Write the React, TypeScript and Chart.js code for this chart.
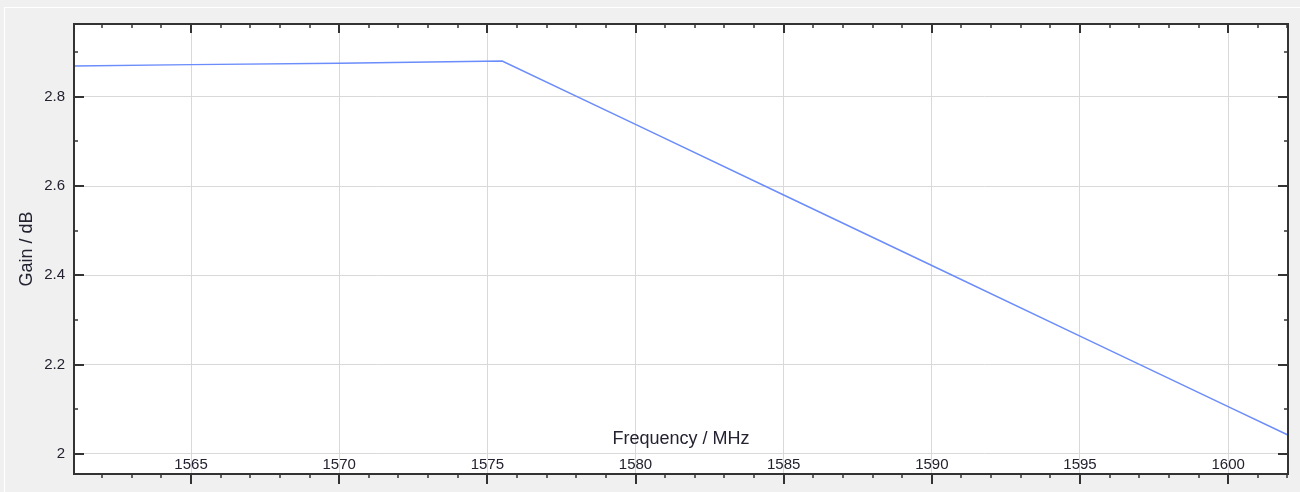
import { useEffect, useRef } from 'react';
import { Chart, registerables } from 'chart.js';

Chart.register(...registerables);

// ---- data ----
const freqMHz = [1561, 1565, 1570, 1575.5, 1580, 1585, 1590, 1595, 1600, 1602];
const gainDb = [2.869, 2.872, 2.875, 2.880, 2.738, 2.580, 2.422, 2.264, 2.106, 2.043];
const xTickValues = [1565, 1570, 1575, 1580, 1585, 1590, 1595, 1600];
const yTickValues = [2, 2.2, 2.4, 2.6, 2.8];
const xRange = [1561.05, 1602.02];
const yRange = [1.955, 2.963];
const xTitle = 'Frequency / MHz';
const yTitle = 'Gain / dB';

const FONT = '"Liberation Sans", Arial, sans-serif';
const TEXT = '#222230';
const AXIS = '#333333';

const framePlugin = {
  id: 'frame',
  beforeDraw(chart: any) {
    const { ctx, chartArea: a, width, height } = chart;
    ctx.save();
    ctx.fillStyle = '#f0f0f0';
    ctx.fillRect(0, 0, width, height);
    ctx.fillStyle = '#ffffff';
    ctx.fillRect(4, 7, width - 4, 1);
    ctx.fillRect(4, 7, 1, height - 7);
    ctx.fillRect(a.left, a.top, a.right - a.left, a.bottom - a.top);
    ctx.restore();
  },
  afterDraw(chart: any) {
    const { ctx, chartArea: a } = chart;
    const xs = chart.scales.x;
    const ys = chart.scales.y;
    ctx.save();
    ctx.strokeStyle = AXIS;
    const line = (x1: number, y1: number, x2: number, y2: number, w: number) => {
      ctx.lineWidth = w;
      ctx.beginPath();
      ctx.moveTo(x1, y1);
      ctx.lineTo(x2, y2);
      ctx.stroke();
    };
    for (let v = Math.ceil(xs.min); v <= xs.max; v++) {
      const major = v % 5 === 0;
      const px = Math.round(xs.getPixelForValue(v));
      line(px, a.bottom, px, a.bottom + (major ? 10 : 4), major ? 2 : 1.5);
      line(px, a.top, px, a.top + (major ? 9 : 4), major ? 2 : 1.5);
    }
    for (let k = Math.ceil(ys.min * 10); k <= Math.floor(ys.max * 10); k++) {
      const major = k % 2 === 0;
      const py = Math.round(ys.getPixelForValue(k / 10));
      line(a.left, py, a.left + (major ? 10 : 4), py, major ? 2 : 1.5);
      line(a.right, py, a.right - (major ? 10 : 4), py, major ? 2 : 1.5);
    }
    ctx.lineWidth = 2;
    ctx.strokeRect(a.left, a.top, a.right - a.left, a.bottom - a.top);
    ctx.restore();
  },
};

export default function App() {
  const ref = useRef<HTMLCanvasElement>(null);
  useEffect(() => {
    if (!ref.current) return;
    const chart = new Chart(ref.current, {
      type: 'scatter',
      data: {
        datasets: [
          {
            data: freqMHz.map((x, i) => ({ x, y: gainDb[i] })),
            showLine: true,
            borderColor: '#6b8cfb',
            borderWidth: 1.5,
            pointRadius: 0,
            fill: false,
          },
        ],
      },
      options: {
        animation: false,
        responsive: false,
        events: [],
        layout: { padding: { top: 24, right: 12, bottom: 0, left: 0 } },
        plugins: { legend: { display: false }, tooltip: { enabled: false } },
        scales: {
          x: {
            type: 'linear',
            min: xRange[0],
            max: xRange[1],
            afterBuildTicks: (s: any) => {
              s.ticks = xTickValues.map((value) => ({ value }));
            },
            afterFit: (s: any) => {
              s.height = 16;
            },
            grid: { color: '#d9d9d9', lineWidth: 1, drawTicks: false },
            border: { display: false },
            ticks: {
              mirror: true,
              padding: 0,
              maxRotation: 0,
              autoSkip: false,
              color: TEXT,
              font: { family: FONT, size: 15 },
              callback: (v: any) => String(v),
            },
            title: {
              display: true,
              text: xTitle,
              color: TEXT,
              font: { family: FONT, size: 18 },
              padding: { top: 0, bottom: 40 },
            },
          },
          y: {
            type: 'linear',
            min: yRange[0],
            max: yRange[1],
            afterBuildTicks: (s: any) => {
              s.ticks = yTickValues.map((value) => ({ value }));
            },
            afterFit: (s: any) => {
              s.width = 74;
            },
            grid: { color: '#d9d9d9', lineWidth: 1, drawTicks: false },
            border: { display: false },
            ticks: {
              padding: 9,
              color: TEXT,
              font: { family: FONT, size: 15 },
              callback: (v: any) => String(v),
            },
            title: {
              display: true,
              text: yTitle,
              color: TEXT,
              font: { family: FONT, size: 18 },
              padding: { top: 16, bottom: 0 },
            },
          },
        },
      },
      plugins: [framePlugin],
    });
    return () => chart.destroy();
  }, []);
  return (
    <div style={{ position: 'absolute', left: 0, top: 0, width: 1300, height: 492 }}>
      <canvas ref={ref} width={1300} height={492} style={{ display: 'block' }} />
    </div>
  );
}
